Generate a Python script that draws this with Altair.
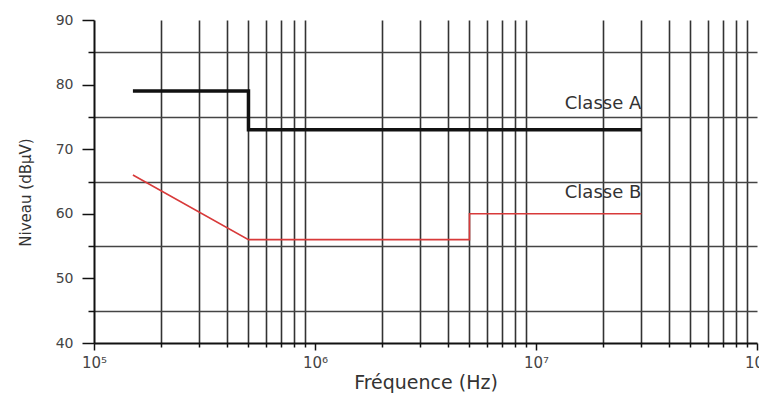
import altair as alt
import pandas as pd

# --- data ---
freq_a = [1.5e5, 5e5, 5e5, 3e7]
level_a = [79, 79, 73, 73]
freq_b = [1.5e5, 5e5, 5e6, 5e6, 3e7]
level_b = [66, 56, 56, 60, 60]

label_text = ["Classe A", "Classe B"]
label_freq = [1.35e7, 1.35e7]
label_level = [77.0, 63.2]

decades = [1e5, 1e6, 1e7, 1e8]
minor_mult = [2, 3, 4, 5, 6, 7, 8, 9]
x_ticks = decades + [m * d for d in decades[:-1] for m in minor_mult]
y_ticks = [40, 45, 50, 55, 60, 65, 70, 75, 80, 85, 90]

df_a = pd.DataFrame({"freq": freq_a, "level": level_a, "order": list(range(len(freq_a)))})
df_b = pd.DataFrame({"freq": freq_b, "level": level_b, "order": list(range(len(freq_b)))})
df_t = pd.DataFrame({"freq": label_freq, "level": label_level, "text": label_text})

FONT = "DejaVu Sans"
is_decade = "abs(log(datum.value)/LN10 - round(log(datum.value)/LN10)) < 0.001"

x_scale = alt.Scale(type="log", domain=[1e5, 1e8], nice=False)
y_scale = alt.Scale(domain=[40, 90], nice=False, zero=False)

x_axis = alt.Axis(
    values=x_ticks,
    title="Fréquence (Hz)",
    titleFont=FONT, titleFontSize=19, titleFontWeight="normal", titleColor="#333",
    titleY=45, titleBaseline="alphabetic",
    labelExpr="(" + is_decade + ") ? '10' + ['⁰','¹','²','³','⁴','⁵','⁶','⁷','⁸','⁹'][round(log(datum.value)/LN10)] : ''",
    labelFont=FONT, labelFontSize=15, labelColor="#444", labelPadding=5,
    labelFlush=False, labelOverlap=False, labelBound=False,
    grid=True, gridColor="#333", gridWidth=1.6,
    gridOpacity={"condition": {"test": is_decade, "value": 0}, "value": 1},
    ticks=True, tickColor="#111", tickWidth=1.5,
    tickSize={"condition": {"test": is_decade, "value": 7}, "value": 4},
    domain=True, domainColor="#111", domainWidth=2,
)

y_axis = alt.Axis(
    values=y_ticks,
    title="Niveau (dBµV)",
    titleFont=FONT, titleFontSize=15, titleFontWeight="normal", titleColor="#333",
    titleX=-69, titleY=172, titleBaseline="middle", titleAngle=270,
    labelExpr="datum.value % 10 === 0 ? datum.label : ''",
    labelFont=FONT, labelFontSize=14, labelColor="#444", labelPadding=9,
    labelOverlap=False, labelFlush=False,
    grid=True, gridColor="#444", gridWidth=1.3,
    gridOpacity={"condition": {"test": "datum.value % 10 === 0", "value": 0}, "value": 1},
    ticks=True, tickColor="#111", tickWidth=1.5,
    tickSize={"condition": {"test": "datum.value % 10 === 0", "value": 12}, "value": 6},
    domain=True, domainColor="#111", domainWidth=2,
)

line_a = alt.Chart(df_a).mark_line(color="#111", strokeWidth=3.5, strokeJoin="miter", strokeCap="butt").encode(
    x=alt.X("freq:Q", scale=x_scale, axis=x_axis),
    y=alt.Y("level:Q", scale=y_scale, axis=y_axis),
    order="order:Q",
)

line_b = alt.Chart(df_b).mark_line(color="#d83a3a", strokeWidth=1.6, strokeJoin="miter", strokeCap="butt").encode(
    x=alt.X("freq:Q", scale=x_scale, axis=x_axis),
    y=alt.Y("level:Q", scale=y_scale, axis=y_axis),
    order="order:Q",
)

labels = alt.Chart(df_t).mark_text(align="left", baseline="middle", font=FONT, fontSize=18, color="#333").encode(
    x=alt.X("freq:Q", scale=x_scale, axis=x_axis),
    y=alt.Y("level:Q", scale=y_scale, axis=y_axis),
    text="text:N",
)

chart = alt.layer(line_a, line_b, labels).properties(
    width=663,
    height=323,
    autosize=alt.AutoSizeParams(type="none"),
    padding={"left": 86, "top": 12, "right": 2, "bottom": 51},
    background="white",
).configure_view(stroke=None)

chart.save("out.html", embed_options={"renderer": "svg", "actions": False})
